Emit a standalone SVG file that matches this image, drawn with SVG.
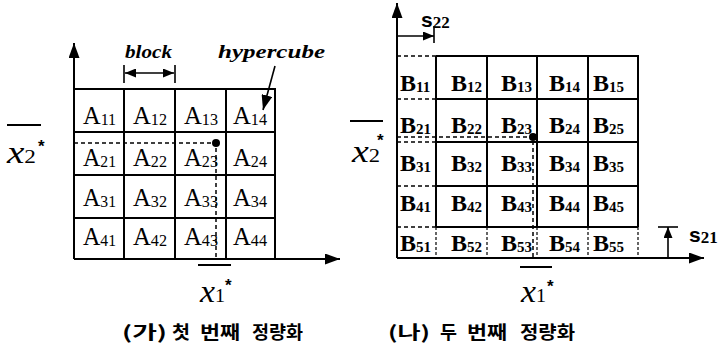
<svg xmlns="http://www.w3.org/2000/svg" width="718" height="347" viewBox="0 0 718 347">
<defs>
<marker id="ah" markerUnits="userSpaceOnUse" markerWidth="15" markerHeight="11" refX="15" refY="5.5" orient="auto-start-reverse"><path d="M0,0 L15,5.5 L0,11 z" fill="#000"/></marker>
<marker id="as" markerUnits="userSpaceOnUse" markerWidth="11" markerHeight="9" refX="11" refY="4.5" orient="auto-start-reverse"><path d="M0,0 L11,4.5 L0,9 z" fill="#000"/></marker>
<style>
.ln{stroke:#000;stroke-width:2;fill:none}
.th{stroke:#000;stroke-width:1.6;fill:none}
.ds{stroke:#000;stroke-width:1.5;fill:none;stroke-dasharray:4 3}
.dt{stroke:#000;stroke-width:1.2;fill:none;stroke-dasharray:3 2}
.A{font-family:"Liberation Serif",serif;font-size:26px;fill:#000}
.B{font-family:"Liberation Serif",serif;font-size:24px;font-weight:bold;fill:#000}
.sub{font-size:17px}
.bsub{font-size:15px}
.var{font-family:"Liberation Serif",serif;font-style:italic;font-size:32px;fill:#000}
.vs{font-family:"Liberation Serif",serif;font-style:normal;font-size:19px}
.st{font-family:"Liberation Sans",sans-serif;font-weight:bold;font-size:17px;fill:#000}
.lab{font-family:"Liberation Serif",serif;font-style:italic;font-weight:bold;font-size:19px;fill:#000}
.s{font-family:"Liberation Sans",sans-serif;font-weight:bold;font-size:21px;fill:#000}
.sd{font-family:"Liberation Serif",serif;font-weight:bold;font-size:17px}
.cap{font-family:"Noto Sans CJK KR",sans-serif;font-weight:bold;font-size:18px;fill:#000}
</style>
</defs>
<rect width="718" height="347" fill="#fff"/>

<!-- Panel (가) -->
<g id="panel-a">
  <g id="grid-a">
    <path class="ln" d="M74,89 H275 V259 M124,89 V259 M175,89 V259 M226,89 V259 M74,132 H275 M74,175 H275 M74,218 H275"/>
  </g>
  <g id="cells-a">
    <g id="A11"><text class="A" x="83" y="124" textLength="33" lengthAdjust="spacingAndGlyphs">A<tspan class="sub" dy="1">11</tspan></text></g>
    <g id="A12"><text class="A" x="133" y="124" textLength="34" lengthAdjust="spacingAndGlyphs">A<tspan class="sub" dy="1">12</tspan></text></g>
    <g id="A13"><text class="A" x="184" y="124" textLength="34" lengthAdjust="spacingAndGlyphs">A<tspan class="sub" dy="1">13</tspan></text></g>
    <g id="A14"><text class="A" x="233" y="124" textLength="34" lengthAdjust="spacingAndGlyphs">A<tspan class="sub" dy="1">14</tspan></text></g>
    <g id="A21"><text class="A" x="83" y="166" textLength="33" lengthAdjust="spacingAndGlyphs">A<tspan class="sub" dy="1">21</tspan></text></g>
    <g id="A22"><text class="A" x="133" y="166" textLength="34" lengthAdjust="spacingAndGlyphs">A<tspan class="sub" dy="1">22</tspan></text></g>
    <g id="A23"><text class="A" x="184" y="166" textLength="34" lengthAdjust="spacingAndGlyphs">A<tspan class="sub" dy="1">23</tspan></text></g>
    <g id="A24"><text class="A" x="233" y="166" textLength="34" lengthAdjust="spacingAndGlyphs">A<tspan class="sub" dy="1">24</tspan></text></g>
    <g id="A31"><text class="A" x="83" y="206" textLength="33" lengthAdjust="spacingAndGlyphs">A<tspan class="sub" dy="1">31</tspan></text></g>
    <g id="A32"><text class="A" x="133" y="206" textLength="34" lengthAdjust="spacingAndGlyphs">A<tspan class="sub" dy="1">32</tspan></text></g>
    <g id="A33"><text class="A" x="184" y="206" textLength="34" lengthAdjust="spacingAndGlyphs">A<tspan class="sub" dy="1">33</tspan></text></g>
    <g id="A34"><text class="A" x="233" y="206" textLength="34" lengthAdjust="spacingAndGlyphs">A<tspan class="sub" dy="1">34</tspan></text></g>
    <g id="A41"><text class="A" x="83" y="245" textLength="33" lengthAdjust="spacingAndGlyphs">A<tspan class="sub" dy="1">41</tspan></text></g>
    <g id="A42"><text class="A" x="133" y="245" textLength="34" lengthAdjust="spacingAndGlyphs">A<tspan class="sub" dy="1">42</tspan></text></g>
    <g id="A43"><text class="A" x="184" y="245" textLength="34" lengthAdjust="spacingAndGlyphs">A<tspan class="sub" dy="1">43</tspan></text></g>
    <g id="A44"><text class="A" x="233" y="245" textLength="34" lengthAdjust="spacingAndGlyphs">A<tspan class="sub" dy="1">44</tspan></text></g>
  </g>
  <g id="connectors-a">
    <line class="ln" x1="74" y1="259" x2="74" y2="43" marker-end="url(#ah)"/>
    <line class="ln" x1="74" y1="259" x2="340" y2="259" marker-end="url(#ah)"/>
    <path class="ds" d="M74,143 H216 V259"/>
    <circle cx="216" cy="143" r="4" fill="#000"/>
    <path class="th" d="M124,65 V83 M175,65 V83"/>
    <line class="th" x1="125" y1="73" x2="174" y2="73" marker-start="url(#as)" marker-end="url(#as)"/>
    <line class="th" x1="275" y1="66" x2="263" y2="110" marker-end="url(#ah)"/>
    <path class="ln" d="M198,265 H231 M7,125 H41"/>
  </g>
  <g id="labels-a">
    <text class="lab" x="125" y="58" textLength="47" lengthAdjust="spacingAndGlyphs">block</text>
    <text class="lab" x="218" y="58" textLength="107" lengthAdjust="spacingAndGlyphs">hypercube</text>
    <text class="var" x="200" y="302" textLength="25" lengthAdjust="spacingAndGlyphs">x<tspan class="vs">1</tspan></text>
    <text class="st" x="225" y="291">*</text>
    <text class="var" x="7" y="163" textLength="29" lengthAdjust="spacingAndGlyphs">x<tspan class="vs">2</tspan></text>
    <text class="st" x="38" y="152">*</text>
    <text class="cap" x="122" y="339" textLength="45" lengthAdjust="spacingAndGlyphs">(가)</text>
    <text class="cap" x="172" y="339" textLength="18" lengthAdjust="spacingAndGlyphs">첫</text>
    <text class="cap" x="200" y="339" textLength="40" lengthAdjust="spacingAndGlyphs">번째</text>
    <text class="cap" x="252" y="339" textLength="51" lengthAdjust="spacingAndGlyphs">정량화</text>
  </g>
</g>

<!-- Panel (나) -->
<g id="panel-b">
  <g id="grid-b">
    <path class="ln" d="M436,56 H638 V227 M436,99 H638 M436,142 H638 M436,186 H638 M436,227 H638 M436,56 V227 M487,56 V227 M537,56 V227 M588,56 V227"/>
    <path class="ds" d="M397,56 H436 M397,99 H436 M397,142 H436 M397,186 H436 M397,227 H436"/>
    <path class="dt" d="M436,227 V258 M487,227 V258 M537,227 V258 M588,227 V258 M638,227 V258"/>
  </g>
  <g id="cells-b">
    <g id="B11"><text class="B" x="400" y="91">B<tspan class="bsub" dy="1">11</tspan></text></g>
    <g id="B12"><text class="B" x="451" y="91">B<tspan class="bsub" dy="1">12</tspan></text></g>
    <g id="B13"><text class="B" x="501" y="91">B<tspan class="bsub" dy="1">13</tspan></text></g>
    <g id="B14"><text class="B" x="549" y="91">B<tspan class="bsub" dy="1">14</tspan></text></g>
    <g id="B15"><text class="B" x="593" y="91">B<tspan class="bsub" dy="1">15</tspan></text></g>
    <g id="B21"><text class="B" x="400" y="133">B<tspan class="bsub" dy="1">21</tspan></text></g>
    <g id="B22"><text class="B" x="451" y="133">B<tspan class="bsub" dy="1">22</tspan></text></g>
    <g id="B23"><text class="B" x="501" y="133">B<tspan class="bsub" dy="1">23</tspan></text></g>
    <g id="B24"><text class="B" x="549" y="133">B<tspan class="bsub" dy="1">24</tspan></text></g>
    <g id="B25"><text class="B" x="593" y="133">B<tspan class="bsub" dy="1">25</tspan></text></g>
    <g id="B31"><text class="B" x="400" y="171">B<tspan class="bsub" dy="1">31</tspan></text></g>
    <g id="B32"><text class="B" x="451" y="171">B<tspan class="bsub" dy="1">32</tspan></text></g>
    <g id="B33"><text class="B" x="501" y="171">B<tspan class="bsub" dy="1">33</tspan></text></g>
    <g id="B34"><text class="B" x="549" y="171">B<tspan class="bsub" dy="1">34</tspan></text></g>
    <g id="B35"><text class="B" x="593" y="171">B<tspan class="bsub" dy="1">35</tspan></text></g>
    <g id="B41"><text class="B" x="400" y="211">B<tspan class="bsub" dy="1">41</tspan></text></g>
    <g id="B42"><text class="B" x="451" y="211">B<tspan class="bsub" dy="1">42</tspan></text></g>
    <g id="B43"><text class="B" x="501" y="211">B<tspan class="bsub" dy="1">43</tspan></text></g>
    <g id="B44"><text class="B" x="549" y="211">B<tspan class="bsub" dy="1">44</tspan></text></g>
    <g id="B45"><text class="B" x="593" y="211">B<tspan class="bsub" dy="1">45</tspan></text></g>
    <g id="B51"><text class="B" x="400" y="251">B<tspan class="bsub" dy="1">51</tspan></text></g>
    <g id="B52"><text class="B" x="451" y="251">B<tspan class="bsub" dy="1">52</tspan></text></g>
    <g id="B53"><text class="B" x="501" y="251">B<tspan class="bsub" dy="1">53</tspan></text></g>
    <g id="B54"><text class="B" x="549" y="251">B<tspan class="bsub" dy="1">54</tspan></text></g>
    <g id="B55"><text class="B" x="593" y="251">B<tspan class="bsub" dy="1">55</tspan></text></g>
  </g>
  <g id="connectors-b">
    <line class="ln" x1="397" y1="258" x2="397" y2="3" marker-end="url(#ah)"/>
    <line class="ln" x1="397" y1="258" x2="704" y2="258" marker-end="url(#ah)"/>
    <path class="ds" d="M397,137 H533 V258"/>
    <circle cx="533" cy="137" r="4" fill="#000"/>
    <line class="th" x1="397" y1="36" x2="434" y2="36" marker-end="url(#as)"/>
    <path class="th" d="M434,26 V43"/>
    <line class="th" x1="668" y1="258" x2="668" y2="227" marker-end="url(#as)"/>
    <path class="th" d="M658,227 H678"/>
    <path class="ln" d="M520,267 H552 M350,121 H383"/>
  </g>
  <g id="labels-b">
    <text class="s" x="421" y="27">s<tspan class="sd" dy="1">22</tspan></text>
    <text class="s" x="689" y="242">s<tspan class="sd" dy="1">21</tspan></text>
    <text class="var" x="521" y="302" textLength="25" lengthAdjust="spacingAndGlyphs">x<tspan class="vs">1</tspan></text>
    <text class="st" x="547" y="292">*</text>
    <text class="var" x="352" y="162" textLength="28" lengthAdjust="spacingAndGlyphs">x<tspan class="vs">2</tspan></text>
    <text class="st" x="377" y="146">*</text>
    <text class="cap" x="388" y="339" textLength="42" lengthAdjust="spacingAndGlyphs">(나)</text>
    <text class="cap" x="440" y="339" textLength="17" lengthAdjust="spacingAndGlyphs">두</text>
    <text class="cap" x="467" y="339" textLength="40" lengthAdjust="spacingAndGlyphs">번째</text>
    <text class="cap" x="520" y="339" textLength="55" lengthAdjust="spacingAndGlyphs">정량화</text>
  </g>
</g>
</svg>
